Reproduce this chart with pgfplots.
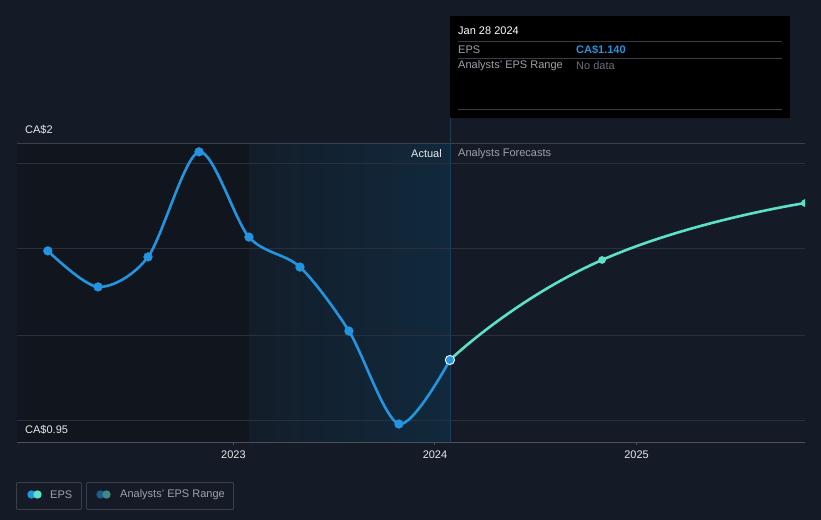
\documentclass[border=0pt]{standalone}
\usepackage{pgfplots}
\pgfplotsset{compat=1.18}
\usepackage{fontspec}
\setmainfont{Liberation Sans}
\definecolor{bg}{HTML}{151B26}
\definecolor{darkreg}{HTML}{11161E}
\definecolor{blueL}{HTML}{131D29}
\definecolor{blueR}{HTML}{11293D}
\definecolor{vline}{HTML}{1B3C58}
\definecolor{gridc}{HTML}{29303A}
\definecolor{topline}{HTML}{3A404A}
\definecolor{axisc}{HTML}{4A4F58}
\definecolor{eps}{HTML}{2394DF}
\definecolor{fc}{HTML}{5CE0C8}
\definecolor{txt}{HTML}{E6E8EA}
\definecolor{txtg}{HTML}{9DA1A8}
\definecolor{txtd}{HTML}{6A6F76}
\definecolor{ttline}{HTML}{3A3E44}
\definecolor{legbox}{HTML}{3A3F48}
\definecolor{rng1}{HTML}{1E5B8A}
\definecolor{rng2}{HTML}{3E8A86}
\newcommand{\fs}{\fontsize{11bp}{13bp}\selectfont}
\begin{document}
\begin{tikzpicture}
% background
\fill[bg] (0,0) rectangle (821bp,-520bp);
% shaded regions (past / last year)
\fill[darkreg] (17bp,-143bp) rectangle (249bp,-442bp);
\fill[left color=blueL, right color=blueR] (249bp,-143bp) rectangle (450bp,-442bp);
\draw[vline, line width=1bp] (450bp,-118bp) -- (450bp,-442bp);

\begin{axis}[
  at={(17bp,-442bp)}, anchor=south west,
  scale only axis, width=788bp, height=299bp,
  xmin=2021.926, xmax=2025.836, ymin=0.8965, ymax=1.7843,
  axis line style={draw=none},
  ytick={0.9589,1.2142,1.4696,1.722}, yticklabels={},
  ymajorgrids=true, grid style={gridc, line width=1bp},
  ytick style={draw=none},
  xtick={2023,2024,2025}, xticklabels={2023,2024,2025},
  xtick pos=bottom, tick align=outside, major tick length=3bp,
  xtick style={axisc, line width=1bp},
  xticklabel style={font=\fs, text=txt, yshift=-2bp},
  /pgf/number format/assume math mode=true,
  clip=true, clip marker paths=true,
]
\draw[axisc, line width=1bp] (rel axis cs:0,0) -- (rel axis cs:1,0);
\draw[topline, line width=1bp] (rel axis cs:0,1) -- (rel axis cs:1,1);
% forecast
\addplot[fc, line width=2.6bp, smooth, tension=0.9, mark=*, mark size=3.6bp,
  mark options={fill=fc, draw=fc, line width=0.4bp}]
  coordinates {(2024.074,1.140) (2024.829,1.437) (2025.836,1.606)};
% actual EPS
\addplot[eps, line width=2.6bp, smooth, mark=*, mark size=4.4bp,
  mark options={fill=eps, draw=eps, line width=0.4bp}]
  coordinates {
  (2022.079,1.464) (2022.328,1.357) (2022.576,1.446) (2022.829,1.758)
  (2023.077,1.505) (2023.330,1.416) (2023.573,1.226) (2023.821,0.950)
  (2024.074,1.140)};
\addplot[only marks, mark=*, mark size=4.6bp,
  mark options={fill=eps, draw=white, line width=0.9bp}]
  coordinates {(2024.074,1.140)};
\end{axis}

% y labels
\node[anchor=west, text=txt, font=\fs, inner sep=0pt] at (25bp,-130bp) {CA\$2};
\node[anchor=west, text=txt, font=\fs, inner sep=0pt] at (25bp,-430bp) {CA\$0.95};
% region labels
\node[anchor=east, text=txt, font=\fs, inner sep=0pt] at (442bp,-154bp) {Actual};
\node[anchor=west, text=txtg, font=\fs, inner sep=0pt] at (458bp,-154bp) {Analysts Forecasts};

% tooltip
\fill[black] (450bp,-16bp) rectangle (790bp,-118bp);
\draw[ttline, line width=0.8bp] (458bp,-41bp) -- (782bp,-41bp);
\draw[ttline, line width=0.8bp] (458bp,-58bp) -- (782bp,-58bp);
\draw[ttline, line width=0.8bp] (458bp,-109bp) -- (782bp,-109bp);
\node[anchor=west, text=white, font=\fs, inner sep=0pt] at (458bp,-31bp) {Jan 28 2024};
\node[anchor=west, text=txtg, font=\fs, inner sep=0pt] at (458bp,-49.5bp) {EPS};
\node[anchor=west, text=eps, font=\fs\bfseries, inner sep=0pt] at (576bp,-49.5bp) {CA\$1.140};
\node[anchor=west, text=txtg, font=\fs, inner sep=0pt] at (458bp,-66bp) {Analysts' EPS Range};
\node[anchor=west, text=txtd, font=\fs, inner sep=0pt] at (576bp,-66bp) {No data};

% legend
\draw[legbox, line width=0.8bp, rounded corners=1bp] (16.5bp,-482.5bp) rectangle (81.5bp,-509.5bp);
\draw[legbox, line width=0.8bp, rounded corners=1bp] (86.5bp,-482.5bp) rectangle (233.5bp,-509.5bp);
\fill[eps] (31.5bp,-494.5bp) circle (4.2bp);
\fill[fc] (37.5bp,-494.5bp) circle (4.2bp);
\fill[rng1] (100.5bp,-494.5bp) circle (4.2bp);
\fill[rng2] (106.5bp,-494.5bp) circle (4.2bp);
\node[anchor=west, text=txtg, font=\fs, inner sep=0pt] at (50bp,-494.5bp) {EPS};
\node[anchor=west, text=txtg, font=\fs, inner sep=0pt] at (120bp,-494.5bp) {Analysts' EPS Range};
\end{tikzpicture}
\end{document}
